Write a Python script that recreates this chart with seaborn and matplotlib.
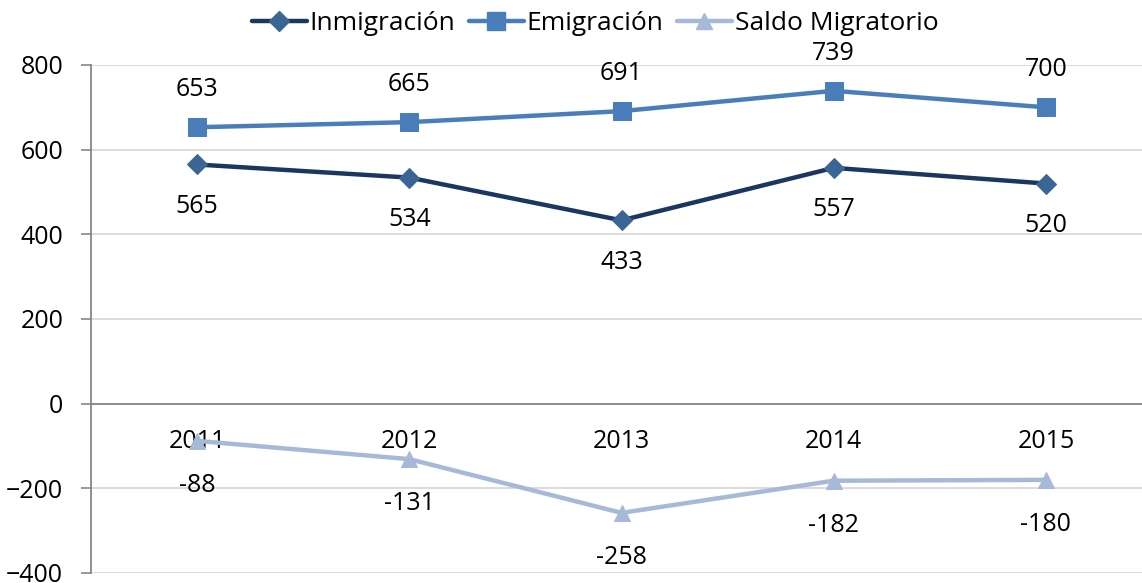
import matplotlib
matplotlib.use("agg")

import matplotlib.pyplot as plt
import seaborn as sns
import pandas as pd
from matplotlib.lines import Line2D

# data
years = ["2011", "2012", "2013", "2014", "2015"]
inmigracion = [565, 534, 433, 557, 520]
emigracion = [653, 665, 691, 739, 700]
saldo = [-88, -131, -258, -182, -180]

sns.set_style("white")
plt.rcParams["font.family"] = ["Open Sans", "DejaVu Sans"]
plt.rcParams["text.color"] = "black"
plt.rcParams["xtick.color"] = "black"
plt.rcParams["ytick.color"] = "black"

df = pd.DataFrame({
    "pos": list(range(len(years))) * 3,
    "valor": inmigracion + emigracion + saldo,
    "serie": ["Inmigración"] * 5 + ["Emigración"] * 5 + ["Saldo Migratorio"] * 5,
})

# (line colour, marker colour, marker, size, label offset in points)
styles = {
    "Inmigración": ("#1B3761", "#3A6595", "D", 10, -30),
    "Emigración": ("#4A7EBB", "#4A7EBB", "s", 13.5, 27),
    "Saldo Migratorio": ("#A7B9D8", "#A7B9D8", "^", 11.5, -32),
}

fs = 18

fig = plt.figure(figsize=(11.42, 5.83), dpi=100)
ax = fig.add_axes([91 / 1142, 10 / 583, 1061 / 1142, 508 / 583])

for name, (lc, mc, mk, ms, off) in styles.items():
    sub = df[df["serie"] == name]
    sns.lineplot(data=sub, x="pos", y="valor", ax=ax, color=lc, linewidth=3.2,
                 marker=mk, markersize=ms, markerfacecolor=mc,
                 markeredgecolor=mc, legend=False)
    for x, y in zip(sub["pos"], sub["valor"]):
        ax.annotate(str(y), (x, y), textcoords="offset points", xytext=(0, off),
                    ha="center", va="center", fontsize=fs)

ax.set_xlim(-0.5, 4.5)
ax.set_ylim(-400, 800)
ax.set_yticks(range(-400, 801, 200))
ax.yaxis.grid(True, color="#D9D9D9", linewidth=1.3)
ax.set_axisbelow(True)

ax.set_xticks(range(len(years)))
ax.set_xticklabels(years)
ax.set_xticks([i + 0.5 for i in range(-1, len(years))], minor=True)
ax.tick_params(axis="x", which="major", length=0, pad=18, labelsize=fs)
ax.tick_params(axis="x", which="minor", length=7, width=1.2, color="#868686",
               direction="out")
ax.tick_params(axis="y", length=7, width=1.2, color="#868686", labelcolor="black",
               pad=13, labelsize=fs, left=True)
ax.set_xlabel("")
ax.set_ylabel("")

for s in ["top", "right"]:
    ax.spines[s].set_visible(False)
ax.spines["bottom"].set_position(("data", 0))
for s in ["left", "bottom"]:
    ax.spines[s].set_color("#868686")
    ax.spines[s].set_linewidth(1.3)

handles = [
    Line2D([], [], color=lc, lw=3.2, marker=mk, markersize=ms,
           markerfacecolor=mc, markeredgecolor=mc, label=name)
    for name, (lc, mc, mk, ms, off) in styles.items()
]
fig.legend(handles=handles, loc="center", bbox_to_anchor=(595 / 1142, 1 - 24 / 583),
           ncol=3, frameon=False, fontsize=19, handlelength=2.1,
           handletextpad=0.1, columnspacing=0.5)

plt.savefig("out.png", dpi=100)
plt.close()
